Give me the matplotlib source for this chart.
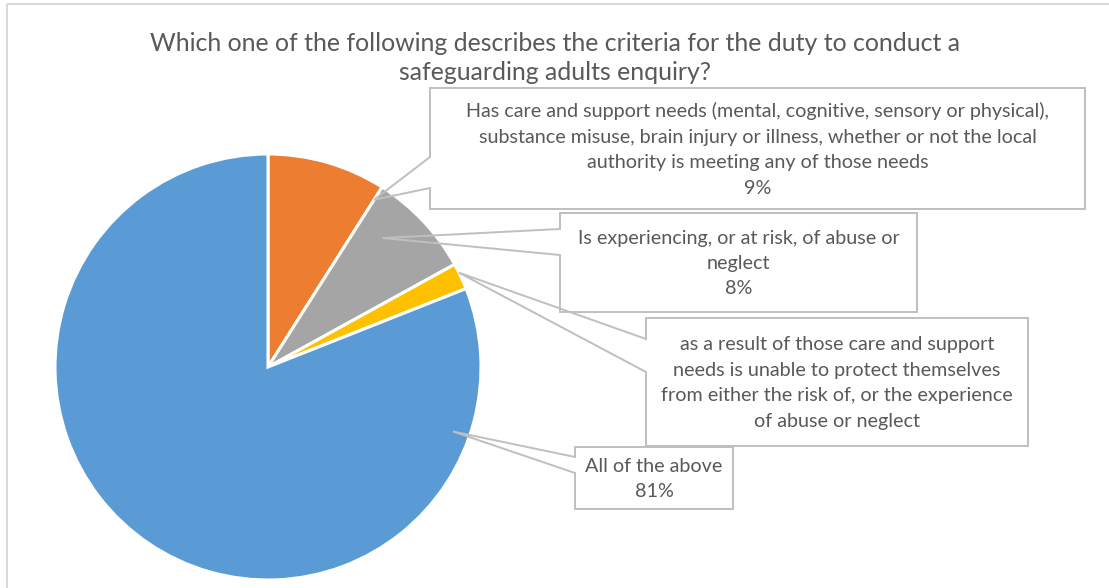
import matplotlib
matplotlib.use("Agg")
import numpy as np
import matplotlib.pyplot as plt
from matplotlib.patches import Rectangle, Polygon

# survey answers, share of respondents (%)
answers = [
    "Has care and support needs (mental, cognitive, sensory or physical),\n"
    "substance misuse, brain injury or illness, whether or not the local\n"
    "authority is meeting any of those needs",
    "Is experiencing, or at risk, of abuse or\nneglect",
    "as a result of those care and support\nneeds is unable to protect themselves\n"
    "from either the risk of, or the experience\nof abuse or neglect",
    "All of the above",
]
shares = [9, 8, 2, 81]
show_pct = [True, True, False, True]
colors = ["#ED7D31", "#A5A5A5", "#FFC000", "#5B9BD5"]

title = ("Which one of the following describes the criteria for the duty to conduct a\n"
         "safeguarding adults enquiry?")

TEXT = "#595959"
EDGE = "#BFBFBF"
W, H = 1109, 588

plt.rcParams["font.family"] = ["Lato", "DejaVu Sans"]

fig = plt.figure(figsize=(W / 100, H / 100), dpi=100)

# overlay in pixel coordinates for frame, title and callouts
ov = fig.add_axes([0, 0, 1, 1])
ov.set_xlim(0, W)
ov.set_ylim(H, 0)
ov.axis("off")
ov.add_patch(Rectangle((6.5, 3.5), W + 20, H + 20, fill=False, ec="#D9D9D9", lw=1.5))
ov.text(555, 58, title, ha="center", va="center", fontsize=17.9, color=TEXT, linespacing=1.33)

# pie: centre (268, 367), radius 213 px
cx, cy, R = 268, 367, 213
ax = fig.add_axes([(cx - R) / W, 1 - (cy + R) / H, 2 * R / W, 2 * R / H])
wedges, _ = ax.pie(shares, colors=colors, startangle=90, counterclock=False,
                   radius=1, wedgeprops=dict(edgecolor="white", linewidth=2.2))
ax.set_xlim(-1, 1)
ax.set_ylim(-1, 1)
ax.set_aspect("equal")
ax.axis("off")
ax.set_zorder(1)
ov.set_zorder(2)
ov.patch.set_visible(False)

# callout boxes: (x0, y0, x1, y1), wedge gap on left edge, anchor (fraction along slice, radius)
boxes = [
    ((430, 88, 1085, 209), (157, 188), (1.0, 0.93)),
    ((560, 213, 917, 312), (229, 255), (0.32, 0.81)),
    ((646, 318, 1028, 446), (339, 372), (0.35, 1.0)),
    ((575, 447, 733, 509), (457, 473), (0.14, 0.92)),
]

fig.canvas.draw()
to_ov = ov.transData.inverted()
for w, label, share, pct, (rect, gap, anc) in zip(wedges, answers, shares, show_pct, boxes):
    x0, y0, x1, y1 = rect
    frac, rr = anc
    # slices run clockwise, starting at theta2
    th = np.deg2rad(w.theta2 - (w.theta2 - w.theta1) * frac)
    px, py = to_ov.transform(ax.transData.transform((rr * np.cos(th), rr * np.sin(th))))
    ov.add_patch(Rectangle((x0, y0), x1 - x0, y1 - y0, fc="white", ec="none"))
    outline = [(x0, y0), (x1, y0), (x1, y1), (x0, y1), (x0, gap[1]), (px, py), (x0, gap[0])]
    ov.add_patch(Polygon(outline, closed=True, fill=False, ec=EDGE, lw=1.4))
    txt = label + (f"\n{share}%" if pct else "")
    ov.text((x0 + x1) / 2, (y0 + y1) / 2 + 1, txt, ha="center", va="center",
            fontsize=14.2, color=TEXT, linespacing=1.6)

fig.savefig("out.png", dpi=100, facecolor="white")
